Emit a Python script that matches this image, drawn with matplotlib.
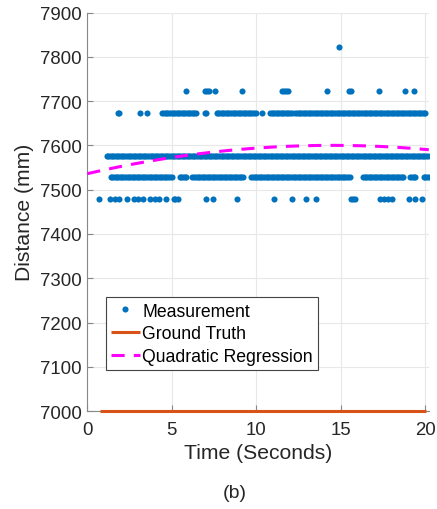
import numpy as np
import matplotlib
matplotlib.use("Agg")
import matplotlib.pyplot as plt

plt.rcParams['font.family'] = ['Liberation Sans', 'DejaVu Sans']

# ---- data ----
sample_step = 0.1  # seconds between samples inside a dense run

# measurement levels (mm)
level_values = [7480, 7528, 7575, 7672, 7722, 7822]

# isolated samples per level (seconds)
single_times = {
    7480: [0.69, 1.35, 1.65, 1.89, 2.36, 2.78, 3.0, 3.3, 3.7, 3.99, 4.22, 4.67,
           5.1, 5.2, 5.38, 7.05, 7.45, 8.87, 11.06, 12.1, 12.93, 13.55, 15.58,
           15.7, 15.83, 17.3, 17.54, 17.8, 18.03, 19.0, 19.4, 19.8],
    7528: [15.55],
    7575: [],
    7672: [1.8, 1.9, 3.12, 3.55, 6.95, 7.05, 10.33],
    7722: [5.82, 6.97, 7.1, 7.2, 7.58, 9.16, 11.5, 11.62, 11.75, 11.88, 14.2,
           15.48, 15.6, 17.25, 18.8, 19.35],
    7822: [14.89],
}

# dense runs of samples per level: (start, end) seconds
run_times = {
    7480: [],
    7528: [(1.38, 5.0), (5.46, 5.87), (6.22, 9.25), (9.7, 15.4), (16.3, 18.7),
           (19.1, 19.4), (19.9, 20.2)],
    7575: [(1.14, 20.15)],
    7672: [(4.44, 6.48), (7.65, 10.0), (10.8, 12.1), (12.3, 20.07)],
    7722: [],
    7822: [],
}

ground_truth_value = 7000
ground_truth_span = [0.75, 20.05]

regression_coef = [-0.304, 8.816, 7536.1]   # quadratic fit, highest power first
regression_span = [0.0, 20.2]

x_ticks = [0, 5, 10, 15, 20]
y_ticks = [7000, 7100, 7200, 7300, 7400, 7500, 7600, 7700, 7800, 7900]

# ---- build measurement arrays ----
mt, md = [], []
for lv in level_values:
    ts = list(single_times[lv])
    for a, b in run_times[lv]:
        ts.extend(np.arange(a, b + 1e-9, sample_step))
    mt.extend(ts)
    md.extend([lv] * len(ts))
mt = np.array(mt)
md = np.array(md)

# ---- figure ----
fig = plt.figure(figsize=(4.37, 5.10), dpi=100)
ax = fig.add_axes([0.1998, 0.192, 0.7822, 0.7815])

blue = '#0072BD'
orange = '#D95319'
magenta = '#FF00FF'

ax.plot(mt, md, linestyle='none', marker='o', markersize=4.4,
        markeredgewidth=0, color=blue, label='Measurement', zorder=3)
ax.plot(ground_truth_span, [ground_truth_value] * 2, color=orange, lw=2.2,
        label='Ground Truth', zorder=4, solid_capstyle='butt', clip_on=False)
tr = np.linspace(regression_span[0], regression_span[1], 200)
ax.plot(tr, np.polyval(regression_coef, tr), color=magenta, lw=2.2,
        dashes=(4.3, 3.0), label='Quadratic Regression', zorder=4)

ax.set_xlim(0, 20.22)
ax.set_ylim(7000, 7900)
ax.set_xticks(x_ticks)
ax.set_yticks(y_ticks)
ax.grid(True, color='#e8e8e8', lw=0.8)
ax.set_axisbelow(True)
for s in ['top', 'right']:
    ax.spines[s].set_visible(False)
for s in ['left', 'bottom']:
    ax.spines[s].set_color('#888888')
    ax.spines[s].set_linewidth(0.8)
ax.tick_params(direction='in', length=4, width=0.8, color='#888888',
               labelsize=13.4, labelcolor='#262626')
ax.tick_params(axis='y', pad=4)
ax.tick_params(axis='x', pad=7)
ax.set_xlabel('Time (Seconds)', fontsize=15.2, color='#262626', labelpad=4)
ax.set_ylabel('Distance (mm)', fontsize=15.2, color='#262626', labelpad=4)

leg = ax.legend(loc='upper left', bbox_to_anchor=(0.0547, 0.2853),
                borderaxespad=0, fontsize=12.7, handlelength=1.6,
                handletextpad=0.15, borderpad=0.3, labelspacing=0.32,
                fancybox=False, framealpha=1, edgecolor='#444444')
leg.get_frame().set_linewidth(0.8)

fig.text(0.538, 0.033, '(b)', fontsize=14, color='#262626', ha='center',
         va='center')

fig.savefig('out.png', dpi=100)
